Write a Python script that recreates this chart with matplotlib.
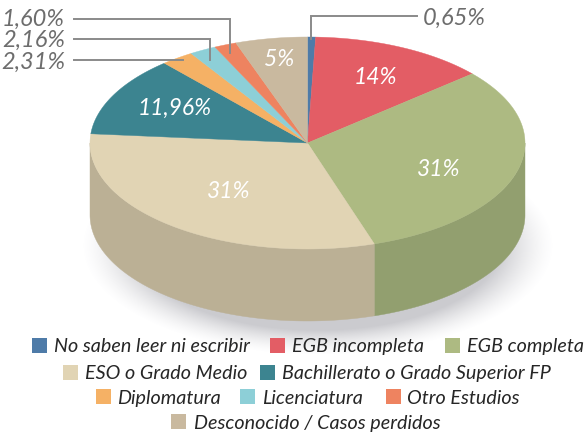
import numpy as np
import matplotlib
matplotlib.use('Agg')
import matplotlib.pyplot as plt
from matplotlib.patches import Rectangle

# Werte aus dem Bild
categories = ['No saben leer ni escribir', 'EGB incompleta', 'EGB completa', 'ESO o Grado Medio',
              'Bachillerato o Grado Superior FP', 'Diplomatura', 'Licenciatura', 'Otro Estudios',
              'Desconocido / Casos perdidos']
value_labels = ['0,65%', '14%', '31%', '31%', '11,96%', '2,31%', '2,16%', '1,60%', '5%']
# Anteile wie im Bild gezeichnet (weichen leicht von den Beschriftungen ab)
shares = [0.6, 13.1, 31.4, 31.4, 12.2, 2.45, 2.0, 1.65, 5.35]

colors = ['#4E7BA8', '#E35D65', '#ADBA82', '#E1D4B4', '#3C8490', '#F5B165', '#8DCFD7', '#EE8360', '#C9B99F']
side_colors = ['#3F6488', '#B84C52', '#929F6F', '#BBB095', '#316C76', '#C79053', '#72A8AF', '#C16A4E', '#A39681']

# Geometrie in Pixeln
W, H = 585, 439
cx, cy, rx, ry, depth = 307.5, 144, 217.5, 106, 72

fig = plt.figure(figsize=(W / 100, H / 100), dpi=100)
ax = fig.add_axes([0, 0, 1, 1])
ax.set_xlim(0, W)
ax.set_ylim(H, 0)
ax.axis('off')

# weicher Schatten unter der Torte
xx, yy = np.meshgrid(np.arange(W), np.arange(H))
dist = np.sqrt(((xx - cx - 10) / rx) ** 2 + ((yy - cy - depth - 30) / (ry - 5)) ** 2)
shadow = np.clip((1.09 - dist) / 0.25, 0, 1) ** 1.5 * 0.40
rgba = np.zeros((H, W, 4))
rgba[..., 0] = 0.50
rgba[..., 1] = 0.50
rgba[..., 2] = 0.54
rgba[..., 3] = shadow
ax.imshow(rgba, extent=[0, W, H, 0], zorder=0, aspect='auto')

# Winkel ab 12 Uhr im Uhrzeigersinn
edges = np.cumsum([0] + shares) / sum(shares) * 2 * np.pi


def rim(a0, a1):
    t = np.linspace(a0, a1, 120)
    return cx + rx * np.sin(t), cy - ry * np.cos(t)


# Seitenflaechen (nur vordere Haelfte)
for i in range(len(shares)):
    a0 = max(edges[i], np.pi / 2)
    a1 = min(edges[i + 1], 3 * np.pi / 2)
    if a1 <= a0:
        continue
    x, y = rim(a0, a1)
    ax.fill(np.r_[x, x[::-1]], np.r_[y, y[::-1] + depth], color=side_colors[i], lw=0.3, zorder=2)

# Deckflaeche
for i in range(len(shares)):
    x, y = rim(edges[i], edges[i + 1])
    ax.fill(np.r_[cx, x], np.r_[cy, y], color=colors[i], ec=colors[i], lw=0.3, zorder=3)

font = {'family': ['Lato', 'DejaVu Sans'], 'style': 'italic'}

# Beschriftungen in den Segmenten
inner = {1: (375, 78), 2: (438.5, 170), 3: (229, 192), 4: (175, 108), 8: (279, 59)}
for i, pos in inner.items():
    ax.text(pos[0], pos[1], value_labels[i], color='white', fontsize=16.5, ha='center', va='center', zorder=5, **font)

# Fuehrungslinien
line_color = '#8A8A8A'
ax.plot([310.5, 310.5, 417], [40, 17, 17], color=line_color, lw=1.4, zorder=4, solid_joinstyle='miter')
ax.plot([74, 229.5, 229.5], [19.5, 19.5, 54], color=line_color, lw=1.4, zorder=4, solid_joinstyle='miter')
ax.plot([74, 209.5, 209.5], [40, 40, 61], color=line_color, lw=1.4, zorder=4, solid_joinstyle='miter')
ax.plot([74, 183], [61, 61], color=line_color, lw=1.4, zorder=4)

outer = {0: (423, 18, 'left'), 7: (65, 19, 'right'), 6: (65, 40, 'right'), 5: (65, 62, 'right')}
for i, (x, y, ha) in outer.items():
    ax.text(x, y, value_labels[i], color='#6D6D6D', fontsize=17, ha=ha, va='center', zorder=5, **font)

# Legende: Feld links, Text rechts
legend_swatch_x = [32, 270, 445, 63, 260, 96, 240, 386, 171]
legend_text_x = [54, 292, 467, 85, 282, 117, 262, 407, 194]
legend_y = [346, 346, 346, 373, 373, 398, 398, 398, 423]
for i in range(len(categories)):
    ax.add_patch(Rectangle((legend_swatch_x[i], legend_y[i] - 7.5), 15, 15, color=colors[i], lw=0, zorder=5))
    ax.text(legend_text_x[i], legend_y[i] + 1, categories[i], color='#262626', fontsize=14.2, ha='left', va='center', zorder=5, **font)

fig.savefig('out.png', dpi=100)
